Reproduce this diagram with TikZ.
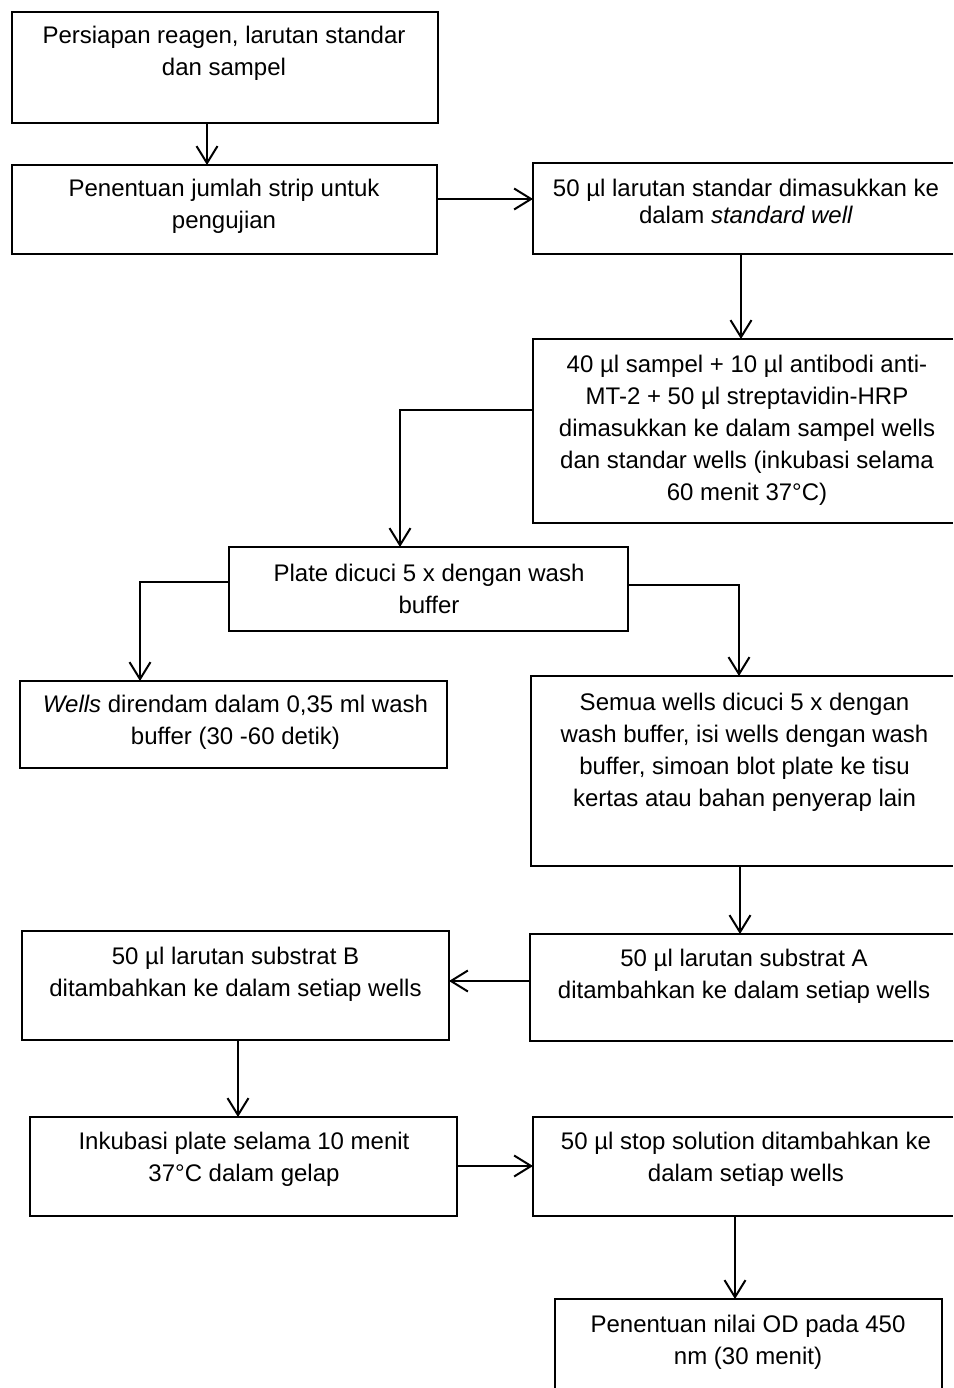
\documentclass[tikz,border=0pt]{standalone}
\usepackage{fontspec}
\setmainfont{Liberation Sans}
\usetikzlibrary{arrows.meta}
\begin{document}
\begin{tikzpicture}[x=1pt,y=-1pt,
  frame/.style={draw, line width=2pt, rectangle, inner sep=0pt, outer sep=0pt},
  shell/.style={draw=none, rectangle, inner sep=0pt, outer sep=0pt},
  edge/.style={line width=2pt},
  % anchor=base sits on the baseline of the last line
  txt/.style={font=\fontsize{24}{32}\selectfont, align=center, inner sep=0pt, anchor=base},
  tighttxt/.style={font=\fontsize{24}{27}\selectfont, align=center, inner sep=0pt, anchor=base},
  arr/.style={line width=2pt, -{Straight Barb[length=17pt,width=21pt,line width=2pt]}}]
\useasboundingbox (0,0) rectangle (953,1388);

% boxes of the procedure
\node[frame, minimum width=426pt, minimum height=111pt] (b1) at (225,67.5) {};
\node[frame, minimum width=425pt, minimum height=89pt] (b2) at (224.5,209.5) {};
\node[shell, minimum width=420pt, minimum height=91pt] (b3) at (743,208.5) {};
\node[shell, minimum width=420pt, minimum height=184pt] (b4) at (743,431) {};
\node[frame, minimum width=399pt, minimum height=84pt] (b5) at (428.5,589) {};
\node[frame, minimum width=427pt, minimum height=87pt] (b6) at (233.5,724.5) {};
\node[shell, minimum width=422pt, minimum height=190pt] (b7) at (742,771) {};
\node[shell, minimum width=423pt, minimum height=107pt] (b8) at (741.5,987.5) {};
\node[frame, minimum width=427pt, minimum height=109pt] (b9) at (235.5,985.5) {};
\node[frame, minimum width=427pt, minimum height=99pt] (b10) at (243.5,1166.5) {};
\node[shell, minimum width=420pt, minimum height=99pt] (b11) at (743,1166.5) {};
\node[shell, minimum width=387pt, minimum height=89pt] (b12) at (748.5,1343.5) {};

% boxes running off the right edge: three sides only
\foreach \b in {b3,b4,b7,b8,b11}
  \draw[edge] (\b.north east) -- (\b.north west) -- (\b.south west) -- (\b.south east);
% last box runs off the bottom edge
\draw[edge] (b12.south west) -- (b12.north west) -- (b12.north east) -- (b12.south east);

% texts (positioned by the baseline of their last line)
\node[txt] (t1) at (224,76) {Persiapan reagen, larutan standar\\dan sampel};
\node[txt] (t2) at (224,229) {Penentuan jumlah strip untuk\\pengujian};
\node[tighttxt] (t3) at (746,224) {50 µl larutan standar dimasukkan ke\\dalam \textit{standard well}};
\node[txt] (t4) at (747,500) {40 µl sampel + 10 µl antibodi anti-\\MT-2 + 50 µl streptavidin-HRP\\dimasukkan ke dalam sampel wells\\dan standar wells (inkubasi selama\\60 menit 37°C)};
\node[txt] (t5) at (429,613) {Plate dicuci 5 x dengan wash\\buffer};
\node[txt] (t6) at (235.5,744) {\textit{Wells} direndam dalam 0,35 ml wash\\buffer (30 -60 detik)};
\node[txt] (t7) at (744.5,806) {Semua wells dicuci 5 x dengan\\wash buffer, isi wells dengan wash\\buffer, simoan blot plate ke tisu\\kertas atau bahan penyerap lain};
\node[txt] (t8) at (744,998) {50 µl larutan substrat A\\ditambahkan ke dalam setiap wells};
\node[txt] (t9) at (235.5,996) {50 µl larutan substrat B\\ditambahkan ke dalam setiap wells};
\node[txt] (t10) at (244,1181) {Inkubasi plate selama 10 menit\\37°C dalam gelap};
\node[txt] (t11) at (746,1181) {50 µl stop solution ditambahkan ke\\dalam setiap wells};
\node[txt] (t12) at (748,1364) {Penentuan nilai OD pada 450\\nm (30 menit)};

% connectors
\draw[arr] ([xshift=195pt]b1.south west) -- ([xshift=195pt]b2.north west);
\draw[arr] ([yshift=-34pt]b2.north east) -- ([yshift=-36pt]b3.north west);
\draw[arr] ([xshift=208pt]b3.south west) -- ([xshift=208pt]b4.north west);
\draw[arr] ([yshift=-71pt]b4.north west) -| ([xshift=171pt]b5.north west);
\draw[arr] ([yshift=-35pt]b5.north west) -| ([xshift=120pt]b6.north west);
\draw[arr] ([yshift=-38pt]b5.north east) -| ([xshift=208pt]b7.north west);
\draw[arr] ([xshift=209pt]b7.south west) -- ([xshift=210pt]b8.north west);
\draw[arr] ([yshift=-47pt]b8.north west) -- ([yshift=-50pt]b9.north east);
\draw[arr] ([xshift=216pt]b9.south west) -- ([xshift=208pt]b10.north west);
\draw[arr] ([yshift=-49pt]b10.north east) -- ([yshift=-49pt]b11.north west);
\draw[arr] ([xshift=202pt]b11.south west) -- ([xshift=180pt]b12.north west);
\end{tikzpicture}
\end{document}
